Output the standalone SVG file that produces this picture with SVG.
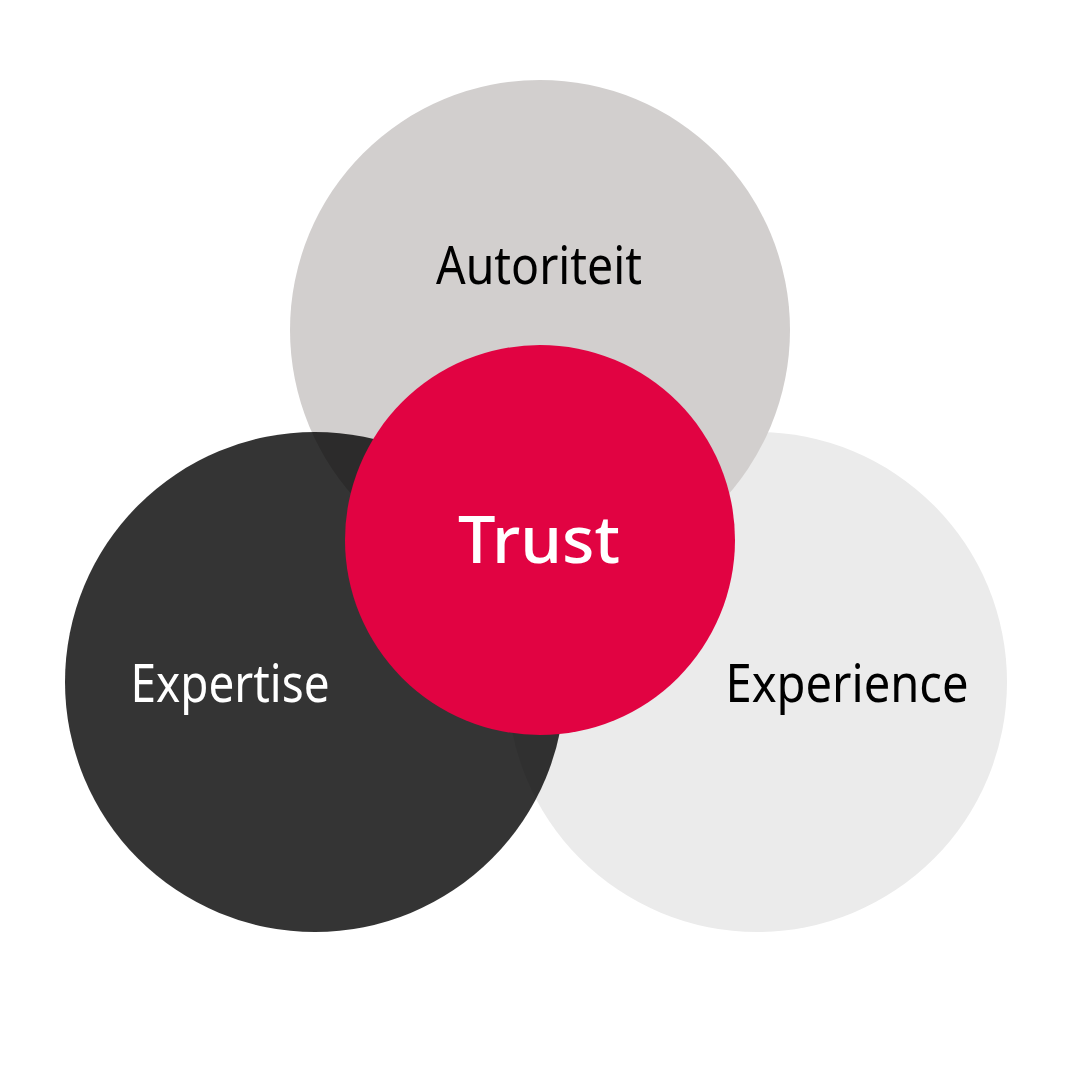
<svg xmlns="http://www.w3.org/2000/svg" width="1080" height="1080" viewBox="0 0 1080 1080">
<style>
.lbl{font-family:"Noto Sans","Open Sans",sans-serif;font-size:53px;font-weight:400;text-anchor:middle}
.trust{font-family:"Noto Sans","Open Sans",sans-serif;font-size:66px;font-weight:500;text-anchor:middle;fill:#ffffff}
</style>
<rect width="1080" height="1080" fill="#ffffff"/>
<g id="experience">
<circle cx="757" cy="682" r="250" fill="#ebebeb"/>
</g>
<g id="autoriteit">
<circle cx="540" cy="330" r="250" fill="#d2cfce"/>
</g>
<g id="expertise">
<circle cx="315" cy="682" r="250" fill="#050505" fill-opacity="0.81"/>
</g>
<g id="trust">
<circle cx="540" cy="540" r="195" fill="#e10342"/>
</g>
<g id="labels">
<text class="lbl" x="539" y="284" fill="#000000" textLength="206" lengthAdjust="spacingAndGlyphs">Autoriteit</text>
<text class="lbl" x="230" y="702" fill="#ffffff" textLength="199" lengthAdjust="spacingAndGlyphs">Expertise</text>
<text class="lbl" x="847" y="702" fill="#000000" textLength="243" lengthAdjust="spacingAndGlyphs">Experience</text>
<text class="trust" x="539" y="563" textLength="162" lengthAdjust="spacingAndGlyphs">Trust</text>
</g>
<g id="connectors"/>
</svg>
